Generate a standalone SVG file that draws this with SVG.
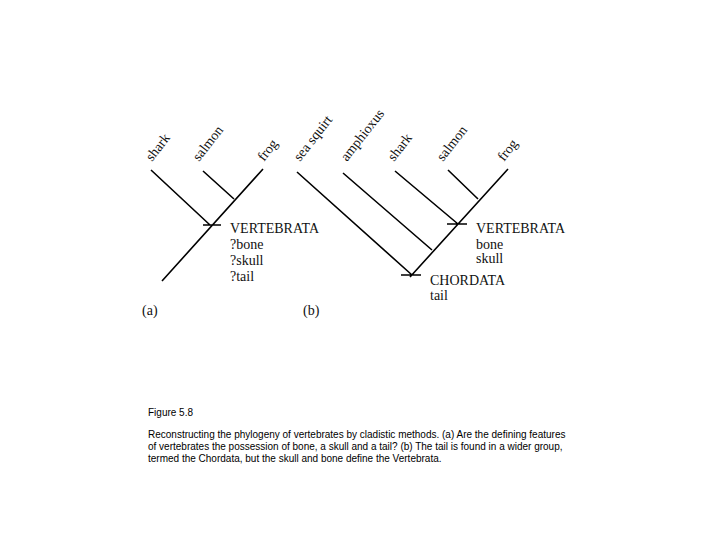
<svg xmlns="http://www.w3.org/2000/svg" width="720" height="540" viewBox="0 0 720 540">
<style>
.l{stroke:#000;stroke-width:1.6;fill:none}
.t{font-family:"Liberation Serif",serif;font-size:14px;fill:#111}
.c{font-family:"Liberation Sans",sans-serif;font-size:10px;fill:#000}
</style>
<rect width="720" height="540" fill="#fff"/>
<g id="connectors">
<path class="l" d="M151,170L210,225M203,171L234,199M263,169L162,281M203,225H221"/>
<path class="l" d="M297,172L412,275M343,173L432,250M395,171L458,224M448,170L478,199M508,169L410,277M401,275H421M447,224H467"/>
</g>
<g id="tree-a">
<text class="t" transform="translate(152,162) rotate(-52)">shark</text>
<text class="t" transform="translate(199,162) rotate(-52)">salmon</text>
<text class="t" transform="translate(264,162) rotate(-52)">frog</text>
<text class="t" x="230" y="233">VERTEBRATA</text>
<text class="t" x="230" y="249">?bone</text>
<text class="t" x="230" y="265">?skull</text>
<text class="t" x="230" y="281">?tail</text>
<text class="t" x="142" y="315">(a)</text>
</g>
<g id="tree-b">
<text class="t" transform="translate(300,162) rotate(-52)">sea squirt</text>
<text class="t" transform="translate(347,162) rotate(-52)">amphioxus</text>
<text class="t" transform="translate(394,162) rotate(-52)">shark</text>
<text class="t" transform="translate(443,162) rotate(-52)">salmon</text>
<text class="t" transform="translate(504,162) rotate(-52)">frog</text>
<text class="t" x="476" y="233">VERTEBRATA</text>
<text class="t" x="476" y="249">bone</text>
<text class="t" x="476" y="263">skull</text>
<text class="t" x="430" y="285">CHORDATA</text>
<text class="t" x="430" y="300">tail</text>
<text class="t" x="303" y="315">(b)</text>
</g>
<g id="caption">
<text class="c" x="148" y="416">Figure 5.8</text>
<text class="c" x="148" y="438">Reconstructing the phylogeny of vertebrates by cladistic methods. (a) Are the defining features</text>
<text class="c" x="148" y="450">of vertebrates the possession of bone, a skull and a tail? (b) The tail is found in a wider group,</text>
<text class="c" x="148" y="462">termed the Chordata, but the skull and bone define the Vertebrata.</text>
</g>
</svg>
